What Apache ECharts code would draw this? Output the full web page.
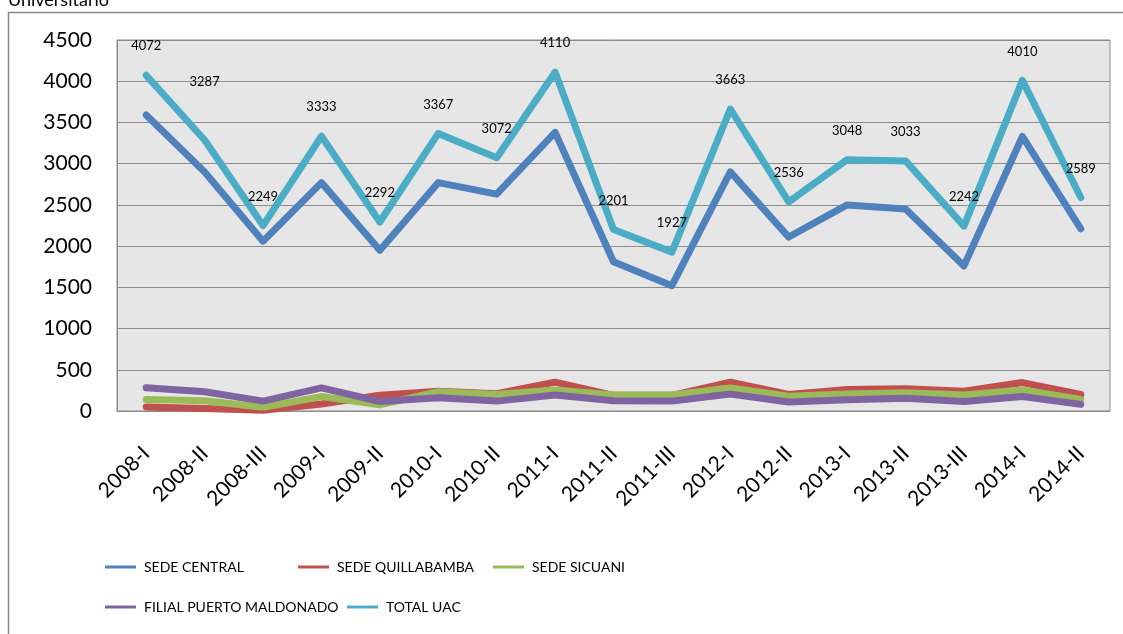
<!DOCTYPE html>
<html>
<head>
<meta charset="utf-8">
<script src="https://cdn.jsdelivr.net/npm/echarts@6/dist/echarts.min.js"></script>
<style>
  html, body { margin: 0; padding: 0; background: #fff; }
  #chart { width: 1123px; height: 634px; }
</style>
</head>
<body>
<div id="chart"></div>
<script>
// periodos academicos
const periodos = ['2008-I', '2008-II', '2008-III', '2009-I', '2009-II', '2010-I', '2010-II', '2011-I', '2011-II',
  '2011-III', '2012-I', '2012-II', '2013-I', '2013-II', '2013-III', '2014-I', '2014-II'];

const sedeCentral = [3590, 2900, 2060, 2770, 1950, 2770, 2630, 3380, 1810, 1520, 2900, 2110, 2500, 2450, 1760, 3330, 2210];
const sedeQuillabamba = [50, 30, 10, 85, 190, 240, 210, 350, 190, 190, 350, 200, 260, 270, 240, 345, 200];
const sedeSicuani = [140, 125, 45, 175, 75, 235, 200, 255, 195, 195, 280, 180, 205, 220, 195, 255, 140];
const filialPuertoMaldonado = [283, 234, 120, 280, 115, 160, 120, 195, 125, 120, 205, 110, 135, 155, 115, 175, 80];
const totalUAC = [4072, 3287, 2249, 3333, 2292, 3367, 3072, 4110, 2201, 1927, 3663, 2536, 3048, 3033, 2242, 4010, 2589];

const yTicks = { min: 0, max: 4500, interval: 500 };

const fuente = 'Lato, "Open Sans", sans-serif';

function linea(name, data, color) {
  return {
    name: name,
    type: 'line',
    data: data,
    symbol: 'circle',
    symbolSize: 1,
    showSymbol: true,
    lineStyle: { color: color, width: 7, cap: 'round', join: 'round' },
    itemStyle: { color: color },
    emphasis: { disabled: true },
    animation: false
  };
}

const series = [
  linea('SEDE CENTRAL', sedeCentral, '#4F81BD'),
  linea('SEDE QUILLABAMBA', sedeQuillabamba, '#C0504D'),
  linea('SEDE SICUANI', sedeSicuani, '#9BBB59'),
  linea('FILIAL PUERTO MALDONADO', filialPuertoMaldonado, '#8064A2'),
  linea('TOTAL UAC', totalUAC, '#4BACC6')
];
// etiquetas del total
series[4].label = {
  show: true, position: 'top', distance: 22,
  fontFamily: fuente, fontSize: 13, color: '#000'
};
// la de 3287 esta mas arriba en el original
series[4].data = totalUAC.map(function (v, i) {
  if (i === 1) return { value: v, label: { distance: 51 } };
  return v;
});

function leyenda(name, left, top) {
  return {
    data: [name], left: left, top: top,
    icon: 'rect', itemWidth: 31, itemHeight: 3, itemGap: 0,
    textStyle: { fontFamily: fuente, fontSize: 14, color: '#000', padding: [0, 0, 0, 3] }
  };
}

const option = {
  backgroundColor: '#fff',
  textStyle: { fontFamily: fuente },
  grid: { left: 117, right: 13, top: 40, bottom: 223, show: true, backgroundColor: '#E6E6E6', borderColor: '#8C8C8C', borderWidth: 1 },
  legend: [
    leyenda('SEDE CENTRAL', 100, 555),
    leyenda('SEDE QUILLABAMBA', 293, 555),
    leyenda('SEDE SICUANI', 488, 555),
    leyenda('FILIAL PUERTO MALDONADO', 100, 595),
    leyenda('TOTAL UAC', 342, 595)
  ],
  xAxis: {
    type: 'category',
    data: periodos,
    boundaryGap: true,
    axisLine: { lineStyle: { color: '#8C8C8C' } },
    axisTick: { show: false },
    axisLabel: { rotate: 45, margin: 39, fontFamily: fuente, fontSize: 21, color: '#000', interval: 0 }
  },
  yAxis: {
    type: 'value',
    min: yTicks.min, max: yTicks.max, interval: yTicks.interval,
    axisLine: { show: true, lineStyle: { color: '#8C8C8C' } },
    axisTick: { show: false },
    splitLine: { lineStyle: { color: '#8C8C8C', width: 1 } },
    axisLabel: { margin: 25, fontFamily: fuente, fontSize: 21, color: '#000', formatter: function (v) { return String(v); } }
  },
  graphic: [
    { type: 'rect', shape: { x: 8.5, y: 12.5, width: 1130, height: 640 }, style: { fill: null, stroke: '#888', lineWidth: 1.5 }, silent: true },
    { type: 'text', left: 8, top: -9, style: { text: 'Universitario', font: '18px ' + fuente, fill: '#000' } }
  ],
  series: series
};

const chart = echarts.init(document.getElementById('chart'));
chart.setOption(option);
window.addEventListener('resize', function () { chart.resize(); });
</script>
</body>
</html>
